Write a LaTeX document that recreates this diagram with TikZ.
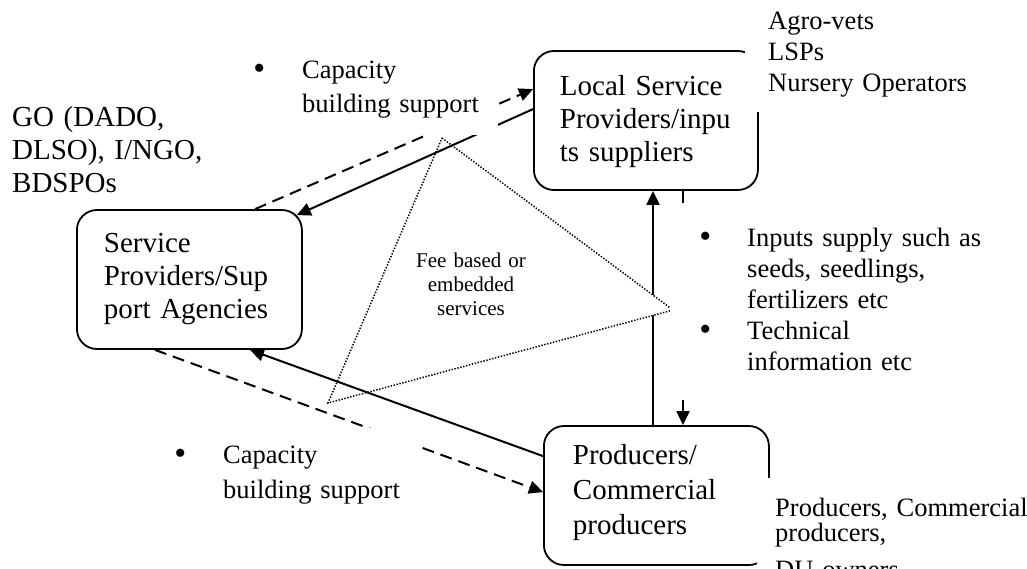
\documentclass[tikz,border=0pt]{standalone}
\usepackage{fontspec}
\setmainfont{Liberation Serif}
\usetikzlibrary{arrows.meta,calc}
\newcommand{\bigdot}{\makebox[18pt]{\raisebox{-1.5pt}{\fontsize{34}{34}\selectfont •}}}
\begin{document}
\begin{tikzpicture}[x=1pt,y=-1pt,
  agent/.style={draw, line width=1.8pt, rounded corners=20pt, anchor=base west,
    align=left, inner ysep=0pt, font=\fontsize{29}{33}\selectfont},
  note/.style={fill=white, anchor=base west, align=left, inner ysep=0pt},
  flow/.style={line width=2pt, -{Triangle[length=14pt,width=13pt]}},
  flowdash/.style={flow, dash pattern=on 12pt off 7pt},
  fee/.style={draw, fill=white, line width=1.5pt, dash pattern=on 1.4pt off 1.6pt}
]
\fill[white] (0,0) rectangle (1027,568);
\useasboundingbox (0,0) rectangle (1027,568);

% actors
\node[agent, inner xsep=26pt, text width=172pt, text height=44pt, text depth=95pt]
  (loc) at (533,95) {Local Service\\Providers/inpu\\ts suppliers};
\node[agent, inner xsep=27pt, text width=171pt, text height=42pt, text depth=97pt]
  (svc) at (76,252) {Service\\Providers/Sup\\port Agencies};
\node[agent, inner xsep=29pt, text width=167pt, text height=38pt, text depth=101pt,
  font=\fontsize{29}{35}\selectfont]
  (prod) at (543,464) {Producers/\\Commercial\\producers};

% producers -> local suppliers (partly hidden under the service triangle)
\draw[flow] ($(prod.north west)+(110,0)$) -- ($(loc.south west)+(120,0)$);

% fee based / embedded services triangle
\path[fee] (442,138) -- (673,310) -- (328,403) -- cycle;
\node[anchor=base, align=center, text width=130pt, inner sep=0pt,
  font=\fontsize{21}{24}\selectfont] (feetxt) at (471,267)
  {Fee based or\\embedded\\services};

% remaining flows
\draw[flow] ($(loc.north west)+(0,59)$) -- ($(svc.north east)+(-6,6)$);
\draw[flowdash] ($(svc.north west)+(179,0)$) -- ($(loc.north west)+(0,39)$);
\draw[flowdash] ($(loc.south west)+(150,0)$) -- ($(prod.north west)+(140,0)$);
\draw[flow] ($(prod.north west)+(0,31)$) -- ($(svc.south west)+(174,0)$);
\draw[flowdash] ($(svc.south west)+(79,0)$) -- ($(prod.north west)+(0,67)$);

% labels
\node[note, inner xsep=23pt, text width=230pt, text height=29pt, text depth=83pt,
  font=\fontsize{26.5}{31}\selectfont] (locwho) at (745,29)
  {Agro-vets\\LSPs\\Nursery Operators};
\node[note, inner xsep=10pt, text width=238pt, text height=33pt, text depth=57pt,
  font=\fontsize{26.5}{34}\selectfont] (capup) at (240,78)
  {\bigdot\hspace{34pt}Capacity\\\hspace*{52pt}building support};
\node[note, inner xsep=26pt, text width=300pt, text height=36pt, text depth=149pt,
  font=\fontsize{26.5}{31}\selectfont] (inputs) at (670,246)
  {\bigdot\hspace{33pt}Inputs supply such as\\
   \hspace*{51pt}seeds, seedlings,\\
   \hspace*{51pt}fertilizers etc\\
   \bigdot\hspace{33pt}Technical\\
   \hspace*{51pt}information etc};
\node[note, inner xsep=11pt, text width=235pt, text height=35pt, text depth=57pt,
  font=\fontsize{26.5}{35}\selectfont] (capdown) at (160,463)
  {\bigdot\hspace{34pt}Capacity\\\hspace*{52pt}building support};
\node[note, inner xsep=18pt, text width=280pt, text height=38pt, text depth=90pt,
  font=\fontsize{26.5}{25}\selectfont] (prodwho) at (757,516)
  {Producers, Commercial\\producers,\\[12pt]DU owners};
\node[anchor=base west, align=left, text width=230pt, inner sep=0pt,
  font=\fontsize{29}{33}\selectfont] (svcwho) at (12,126)
  {GO (DADO,\\DLSO), I/NGO,\\BDSPOs};
\end{tikzpicture}
\end{document}
